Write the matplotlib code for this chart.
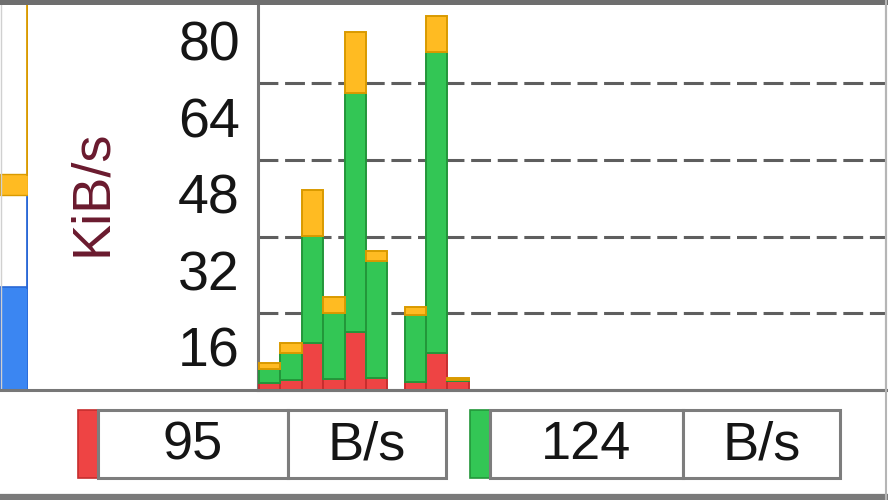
import matplotlib
matplotlib.use("Agg")
import matplotlib.pyplot as plt
from matplotlib.patches import Rectangle
from matplotlib.lines import Line2D

# ---------------- data ----------------
sample_t = [0, 1, 2, 3, 4, 5, 6.8, 7.8, 8.8]
red_vals = [1.5, 2.1, 9.8, 2.3, 12.1, 2.5, 1.7, 7.7, 1.9]
green_vals = [2.9, 5.6, 22.4, 13.8, 49.9, 24.4, 14.0, 62.9, 0.2]
orange_vals = [1.2, 2.1, 9.6, 3.3, 12.7, 2.1, 1.6, 7.5, 0.4]
tick_vals = [16, 32, 48, 64, 80]
grid_vals = [16, 32, 48, 64]
y_label = "KiB/s"
gauge_fill = 21.5
gauge_outline_top = 40.3
gauge_cap = [40.8, 4.2]
legend_values = ["95", "124"]
legend_units = ["B/s", "B/s"]

RED, RED_E = "#ee4444", "#c62e2e"
GREEN, GREEN_E = "#33c655", "#23963a"
ORANGE, ORANGE_E = "#ffbb22", "#d99a00"
BLUE, BLUE_E = "#3b86f2", "#2a68d6"
FONT = "Liberation Sans"

W, H = 888, 500
fig = plt.figure(figsize=(W / 100, H / 100), dpi=100)
fig.patch.set_facecolor("white")

def fx(px):
    return px / W

def fy(py):
    return 1 - py / H

YMAX = 80.6
# ---------------- main plot ----------------
ax = fig.add_axes([fx(258), fy(390), fx(628), (390 - 4) / H])
bottoms_g = red_vals
bottoms_o = [r + g for r, g in zip(red_vals, green_vals)]
ax.bar(sample_t, red_vals, width=1, align="edge", color=RED, edgecolor=RED_E, linewidth=1.4, zorder=3)
ax.bar(sample_t, green_vals, width=1, align="edge", bottom=bottoms_g, color=GREEN, edgecolor=GREEN_E, linewidth=1.4, zorder=3)
ax.bar(sample_t, orange_vals, width=1, align="edge", bottom=bottoms_o, color=ORANGE, edgecolor=ORANGE_E, linewidth=1.4, zorder=3)
for g in grid_vals:
    ax.axhline(g, color="#5e5e5e", lw=2.2, dashes=(6.5, 2.2), zorder=2)
ax.set_xlim(-0.05, 29.3)
ax.set_ylim(0, YMAX)
ax.set_xticks([])
ax.set_yticks([v - 7.0 for v in tick_vals], [str(v) for v in tick_vals])
ax.tick_params(axis="y", length=0, pad=13, labelsize=40, labelcolor="#151515")
for lab in ax.get_yticklabels():
    lab.set_fontfamily(FONT)
fig.text(fx(92), fy(193), y_label, rotation=90, ha="center", va="center",
         fontsize=39, family=FONT, color="#6a1a2e")
ax.spines["top"].set_visible(False)
ax.spines["left"].set_color("#777777")
ax.spines["left"].set_linewidth(2.2)
ax.spines["bottom"].set_color("#777777")
ax.spines["bottom"].set_linewidth(2.2)
ax.spines["right"].set_color("#b5b5b5")
ax.spines["right"].set_linewidth(1.5)

# ---------------- left gauge ----------------
gx = fig.add_axes([0, fy(390), fx(28), (390 - 4) / H])
gx.set_xlim(0, 1)
gx.set_ylim(0, YMAX)
gx.axis("off")
gx.bar(0, gauge_fill, width=1, align="edge", color=BLUE, edgecolor=BLUE_E, linewidth=1.2)
gx.plot([0.97, 0.97], [gauge_fill, gauge_outline_top], color=BLUE_E, lw=2)
gx.bar(0, gauge_cap[1], width=1, align="edge", bottom=gauge_cap[0], color=ORANGE, edgecolor=ORANGE_E, linewidth=1)
gx.plot([0.97, 0.97], [gauge_cap[0] + gauge_cap[1], YMAX], color=ORANGE_E, lw=2)
gx.plot([0.02, 0.02], [0, YMAX], color="#d0d0d0", lw=1)

# ---------------- frame lines ----------------
fig.add_artist(Line2D([0, 1], [fy(2), fy(2)], transform=fig.transFigure, color="#6e6e6e", lw=3.6))
fig.add_artist(Line2D([0, 1], [fy(390), fy(390)], transform=fig.transFigure, color="#777777", lw=2.2))
fig.add_artist(Line2D([0, 1], [fy(497), fy(497)], transform=fig.transFigure, color="#7a7a7a", lw=4.5))
fig.add_artist(Line2D([fx(886), fx(886)], [fy(0), fy(500)], transform=fig.transFigure, color="#b5b5b5", lw=1.5))

# ---------------- bottom legend ----------------
box_top, box_bot = 410, 478
groups = [
    (78, 98, 288, 446, RED, RED_E),
    (470, 490, 683, 840, GREEN, GREEN_E),
]
for (s0, b0, b1, b2, col, ecol), val, unit in zip(groups, legend_values, legend_units):
    fig.add_artist(Rectangle((fx(s0), fy(box_bot)), fx(b0 - s0), (box_bot - box_top) / H,
                             transform=fig.transFigure, facecolor=col, edgecolor=ecol, lw=1.2))
    for xa, xb in [(b0, b1), (b1, b2)]:
        fig.add_artist(Rectangle((fx(xa), fy(box_bot)), fx(xb - xa), (box_bot - box_top) / H,
                                 transform=fig.transFigure, facecolor="white", edgecolor="#7d7d7d", lw=2.2))
    ymid = fy((box_top + box_bot) / 2 + 1)
    fig.text(fx((b0 + b1) / 2), ymid, val, ha="center", va="center", fontsize=39, family=FONT, color="#151515")
    fig.text(fx((b1 + b2) / 2), ymid, unit, ha="center", va="center", fontsize=39, family=FONT, color="#151515")

fig.savefig("out.png", dpi=100)
